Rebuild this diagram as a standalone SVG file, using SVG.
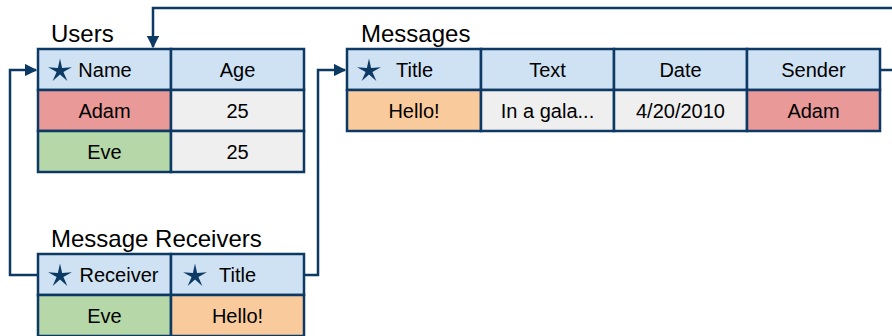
<svg xmlns="http://www.w3.org/2000/svg" width="892" height="336" viewBox="0 0 892 336">
  <style>
    .cell { stroke: #0c3a64; stroke-width: 2.5; }
    .hdr { fill: #cfe2f3; }
    .red { fill: #ea9999; }
    .green { fill: #b6d7a8; }
    .orange { fill: #f9cb9c; }
    .grey { fill: #efefef; }
    text { font-family: "Liberation Sans", Arial, sans-serif; fill: #000; }
    .title { font-size: 24px; }
    .txt { font-size: 20px; text-anchor: middle; }
    .link { fill: none; stroke: #0c3a64; stroke-width: 2.5; }
    .key { fill: #0c3a64; }
  </style>
  <defs>
    <!-- five-point key star with slender arms, centred on the origin -->
    <path id="star" d="M0,-12.5 L2.12,-2.91 L11.89,-3.86 L3.42,1.11 L7.35,10.11 L0,3.6 L-7.35,10.11 L-3.42,1.11 L-11.89,-3.86 L-2.12,-2.91 Z"/>
    <marker id="arrow" viewBox="0 0 10 10" refX="9" refY="5" markerWidth="5" markerHeight="5" markerUnits="strokeWidth" orient="auto">
      <path d="M0,0 L10,5 L0,10 Z" fill="#0c3a64"/>
    </marker>
  </defs>

  <!-- foreign-key connectors -->
  <g id="connectors">
    <path class="link" d="M880,70 H900 V8 H153 V47" marker-end="url(#arrow)"/>
    <path class="link" d="M38,275 H10 V70 H36" marker-end="url(#arrow)"/>
    <path class="link" d="M304,275 H318 V70 H345" marker-end="url(#arrow)"/>
  </g>

  <!-- Users table -->
  <g id="users">
    <text class="title" x="51" y="42">Users</text>
    <rect class="cell hdr" x="38" y="49" width="133" height="41"/>
    <rect class="cell hdr" x="171" y="49" width="133" height="41"/>
    <rect class="cell red" x="38" y="90" width="133" height="41"/>
    <rect class="cell grey" x="171" y="90" width="133" height="41"/>
    <rect class="cell green" x="38" y="131" width="133" height="41"/>
    <rect class="cell grey" x="171" y="131" width="133" height="41"/>
    <use href="#star" class="key" x="60" y="71"/>
    <text class="txt" x="105" y="77">Name</text>
    <text class="txt" x="237.5" y="77">Age</text>
    <text class="txt" x="104.5" y="118">Adam</text>
    <text class="txt" x="237.5" y="118">25</text>
    <text class="txt" x="104.5" y="159">Eve</text>
    <text class="txt" x="237.5" y="159">25</text>
  </g>

  <!-- Messages table -->
  <g id="messages">
    <text class="title" x="361" y="42">Messages</text>
    <rect class="cell hdr" x="347" y="49" width="134" height="41"/>
    <rect class="cell hdr" x="481" y="49" width="133" height="41"/>
    <rect class="cell hdr" x="614" y="49" width="133" height="41"/>
    <rect class="cell hdr" x="747" y="49" width="133" height="41"/>
    <rect class="cell orange" x="347" y="90" width="134" height="41"/>
    <rect class="cell grey" x="481" y="90" width="133" height="41"/>
    <rect class="cell grey" x="614" y="90" width="133" height="41"/>
    <rect class="cell red" x="747" y="90" width="133" height="41"/>
    <use href="#star" class="key" x="369" y="71"/>
    <text class="txt" x="414.5" y="77">Title</text>
    <text class="txt" x="547.5" y="77">Text</text>
    <text class="txt" x="680.5" y="77">Date</text>
    <text class="txt" x="813.5" y="77">Sender</text>
    <text class="txt" x="414" y="118">Hello!</text>
    <text class="txt" x="547.5" y="118">In a gala...</text>
    <text class="txt" x="680.5" y="118">4/20/2010</text>
    <text class="txt" x="813.5" y="118">Adam</text>
  </g>

  <!-- Message Receivers table -->
  <g id="message-receivers">
    <text class="title" x="51" y="247">Message Receivers</text>
    <rect class="cell hdr" x="38" y="254" width="133" height="41"/>
    <rect class="cell hdr" x="171" y="254" width="133" height="41"/>
    <rect class="cell green" x="38" y="295" width="133" height="41"/>
    <rect class="cell orange" x="171" y="295" width="133" height="41"/>
    <use href="#star" class="key" x="60" y="276"/>
    <text class="txt" x="119" y="282">Receiver</text>
    <use href="#star" class="key" x="195" y="276"/>
    <text class="txt" x="237.5" y="282">Title</text>
    <text class="txt" x="104.5" y="323">Eve</text>
    <text class="txt" x="237.5" y="323">Hello!</text>
  </g>
</svg>
